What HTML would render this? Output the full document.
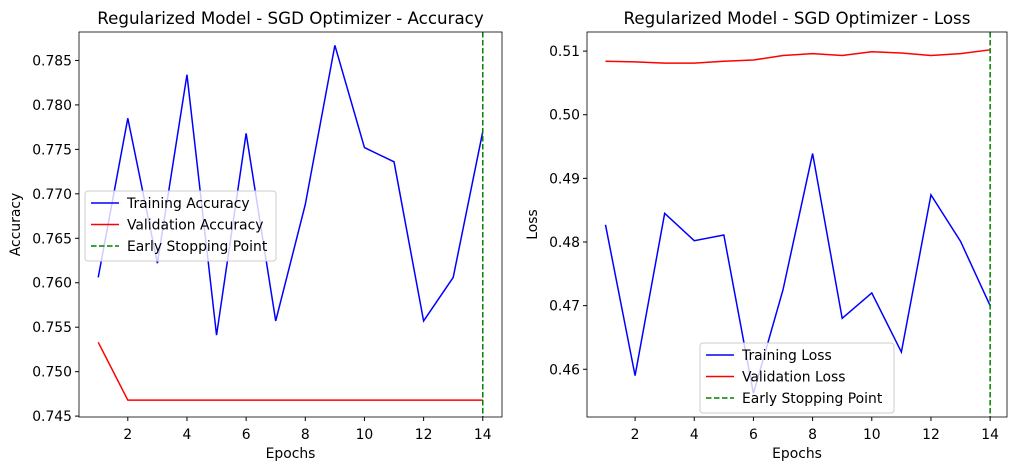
<!DOCTYPE html>
<html><head><meta charset="utf-8"><style>
body{margin:0;background:#fff;font-family:"Liberation Sans","DejaVu Sans",sans-serif;}
svg text{font-family:"DejaVu Sans","Liberation Sans",sans-serif;}
</style></head><body>
<svg id="c" width="1018" height="470" xmlns="http://www.w3.org/2000/svg"></svg>
<script>
const epochs=[1,2,3,4,5,6,7,8,9,10,11,12,13,14];
const trainAcc=[0.7606,0.7785,0.7622,0.7834,0.7541,0.7768,0.7557,0.7688,0.7867,0.7752,0.7736,0.7557,0.7606,0.7770];
const valAcc=[0.7533,0.7468,0.7468,0.7468,0.7468,0.7468,0.7468,0.7468,0.7468,0.7468,0.7468,0.7468,0.7468,0.7468];
const trainLoss=[0.4827,0.4590,0.4845,0.4802,0.4811,0.4562,0.4725,0.4939,0.4680,0.4720,0.4627,0.4874,0.4801,0.4700];
const valLoss=[0.5084,0.5083,0.5081,0.5081,0.5084,0.5086,0.5093,0.5096,0.5093,0.5099,0.5097,0.5093,0.5096,0.5102];
const xTicks=[2,4,6,8,10,12,14];
const accTicks=[0.745,0.750,0.755,0.760,0.765,0.770,0.775,0.780,0.785];
const lossTicks=[0.46,0.47,0.48,0.49,0.50,0.51];
const stopEpoch=14;
const NS="http://www.w3.org/2000/svg";
const svg=document.getElementById('c');
function el(t,a,p){const e=document.createElementNS(NS,t);for(const k in a)e.setAttribute(k,a[k]);(p||svg).appendChild(e);return e;}
function panel(o){
  const g=el('g',{});
  
  
  const X=v=>o.x0+(v-o.xmin)/(o.xmax-o.xmin)*(o.x1-o.x0);
  const Y=v=>o.y1-(v-o.ymin)/(o.ymax-o.ymin)*(o.y1-o.y0);
  for(const t of xTicks){
    el('line',{x1:X(t),x2:X(t),y1:o.y1,y2:o.y1+4,stroke:'#000'},g);
    const tx=el('text',{x:X(t),y:o.y1+22,'font-size':13.9,'text-anchor':'middle'},g);tx.textContent=t;
    
    
  }
  for(const t of o.yt){
    el('line',{x1:o.x0-4,x2:o.x0,y1:Y(t),y2:Y(t),stroke:'#000'},g);
    const tx=el('text',{x:o.x0-7,y:Y(t)+5,'font-size':13.9,'text-anchor':'end'},g);tx.textContent=t.toFixed(o.dec);
    
    
  }
  const line=(d,c,n)=>{const p=el('polyline',{points:epochs.map((e,i)=>X(e)+','+Y(d[i])).join(' '),fill:'none',stroke:c,'stroke-width':1.5},g);
    
    };
  line(o.tr,'#0000ff','training-line');
  line(o.va,'#ff0000','validation-line');
  const v=el('line',{x1:X(stopEpoch),x2:X(stopEpoch),y1:o.y0,y2:o.y1,stroke:'#008000','stroke-width':1.5,'stroke-dasharray':'5.5,2.5'},g);
  
  
  el('rect',{x:o.x0,y:o.y0,width:o.x1-o.x0,height:o.y1-o.y0,fill:'none',stroke:'#000','stroke-width':0.8},g);
  const ti=el('text',{x:(o.x0+o.x1)/2,y:o.y0-8,'font-size':16.7,'text-anchor':'middle'},g);ti.textContent=o.title;
  
  
  const xl=el('text',{x:(o.x0+o.x1)/2,y:458,'font-size':13.9,'text-anchor':'middle'},g);xl.textContent='Epochs';
  
  
  const yl=el('text',{x:o.ylx,y:(o.y0+o.y1)/2,'font-size':13.9,'text-anchor':'middle',transform:`rotate(-90 ${o.ylx} ${(o.y0+o.y1)/2})`},g);yl.textContent=o.ylabel;
  
  
  const L=el('g',{},g);
  
  
  el('rect',{x:o.lx,y:o.ly,width:o.lw,height:70,rx:3,fill:'#fff','fill-opacity':0.8,stroke:'#ccc'},L);
  const items=[[o.l1,'#0000ff',''],[o.l2,'#ff0000',''],['Early Stopping Point','#008000','5.5,2.5']];
  items.forEach((it,i)=>{const yy=o.ly+12+i*21.5;
    el('line',{x1:o.lx+6,x2:o.lx+34,y1:yy,y2:yy,stroke:it[1],'stroke-width':1.5,'stroke-dasharray':it[2]||'none'},L);
    const t=el('text',{x:o.lx+42,y:yy+5,'font-size':13.9},L);t.textContent=it[0];
    
    });
}
panel({name:'accuracy-chart',x0:79,x1:502,y0:32,y1:417,xmin:0.35,xmax:14.65,ymin:0.7449,ymax:0.7882,yt:accTicks,dec:3,tr:trainAcc,va:valAcc,
  title:'Regularized Model - SGD Optimizer - Accuracy',ylabel:'Accuracy',ylx:20,lx:85,ly:191,lw:191,l1:'Training Accuracy',l2:'Validation Accuracy'});
panel({name:'loss-chart',x0:587,x1:1007,y0:32,y1:417,xmin:0.375,xmax:14.57,ymin:0.4525,ymax:0.5130,yt:lossTicks,dec:2,tr:trainLoss,va:valLoss,
  title:'Regularized Model - SGD Optimizer - Loss',ylabel:'Loss',ylx:537,lx:700,ly:343,lw:194,l1:'Training Loss',l2:'Validation Loss'});
</script>
</body></html>
